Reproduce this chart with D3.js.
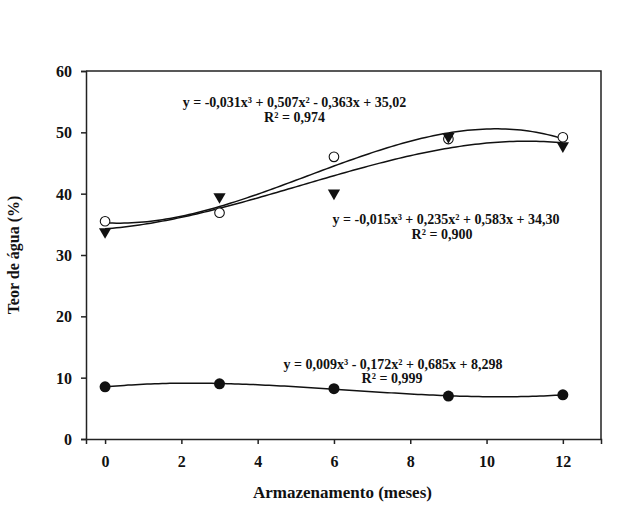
<!DOCTYPE html>
<html><head><meta charset="utf-8">
<script src="https://cdn.jsdelivr.net/npm/d3@7"></script>
<style>
body{margin:0;background:#fff;}
text{font-family:"Liberation Serif","Times New Roman",serif;font-weight:bold;fill:#111;}
</style></head>
<body><svg id="c" width="633" height="523"></svg>
<script>
// ---- data ----
const months = [0, 3, 6, 9, 12];
const openCircles = [35.5, 36.9, 46.0, 48.9, 49.2];
const triangles = [33.8, 39.5, 40.1, 49.3, 47.8];
const filledCircles = [8.5, 9.0, 8.2, 7.0, 7.2];
const xTicks = [0, 2, 4, 6, 8, 10, 12];
const yTicks = [0, 10, 20, 30, 40, 50, 60];
const eqOpen = ["y = -0,031x³ + 0,507x² - 0,363x + 35,02", "R² = 0,974"];
const eqTri = ["y = -0,015x³ + 0,235x² + 0,583x + 34,30", "R² = 0,900"];
const eqFilled = ["y = 0,009x³ - 0,172x² + 0,685x + 8,298", "R² = 0,999"];
const xTitle = "Armazenamento (meses)";
const yTitle = "Teor de água (%)";

// ---- layout ----
const L = 86, R = 601, T = 71, B = 439;
const svg = d3.select("#c");
const x = d3.scaleLinear().domain([-0.5, 13]).range([L, R]);
const y = d3.scaleLinear().domain([0, 60]).range([B, T]);

// cubic least squares fit
function cubicFit(xs, ys) {
  const n = 4, A = [], b = [];
  for (let i = 0; i < n; i++) {
    A.push([]); b.push(0);
    for (let j = 0; j < n; j++) A[i].push(d3.sum(xs, xv => Math.pow(xv, i + j)));
    b[i] = d3.sum(xs.map((xv, k) => ys[k] * Math.pow(xv, i)));
  }
  for (let i = 0; i < n; i++) {
    let p = i;
    for (let r = i + 1; r < n; r++) if (Math.abs(A[r][i]) > Math.abs(A[p][i])) p = r;
    [A[i], A[p]] = [A[p], A[i]]; [b[i], b[p]] = [b[p], b[i]];
    for (let r = i + 1; r < n; r++) {
      const f = A[r][i] / A[i][i];
      for (let c = i; c < n; c++) A[r][c] -= f * A[i][c];
      b[r] -= f * b[i];
    }
  }
  const c = new Array(n).fill(0);
  for (let i = n - 1; i >= 0; i--) {
    let s = b[i];
    for (let j = i + 1; j < n; j++) s -= A[i][j] * c[j];
    c[i] = s / A[i][i];
  }
  return xv => c[0] + c[1] * xv + c[2] * xv * xv + c[3] * xv * xv * xv;
}
const line = d3.line().x(d => x(d[0])).y(d => y(d[1]));
const xs = d3.range(0, 12.001, 0.1);
[openCircles, triangles, filledCircles].forEach(vals => {
  const f = cubicFit(months, vals);
  svg.append("path").attr("d", line(xs.map(v => [v, f(v)])))
    .attr("fill", "none").attr("stroke", "#111").attr("stroke-width", 1.5);
});

// frame & axes
svg.append("path").attr("d", `M${L},${T}H${R}V${B}`).attr("fill", "none").attr("stroke", "#222").attr("stroke-width", 1.5);
const ax = svg.append("g").attr("transform", `translate(0,${B})`)
  .call(d3.axisBottom(x).tickValues(xTicks).tickSize(5).tickSizeOuter(5).tickFormat(d3.format("d")));
const ay = svg.append("g").attr("transform", `translate(${L},0)`)
  .call(d3.axisLeft(y).tickValues(yTicks).tickSize(5).tickSizeOuter(5).tickFormat(d3.format("d")));
[ax, ay].forEach(g => {
  g.selectAll("path,line").attr("stroke", "#222").attr("stroke-width", 1.5);
  g.selectAll("text").style("font-size", "16px").style("font-family", "Liberation Serif").style("font-weight", "bold").attr("fill", "#111");
});
ax.selectAll("text").attr("dy", null).attr("y", 28);
ay.selectAll("text").attr("x", -14).attr("dy", "0.35em");

// markers
svg.append("g").selectAll("circle").data(months).join("circle")
  .attr("cx", (d) => x(d)).attr("cy", (d, i) => y(openCircles[i])).attr("r", 4.8)
  .attr("fill", "#fff").attr("stroke", "#111").attr("stroke-width", 1.1);
const tri = d3.symbol().type(d3.symbolTriangle).size(65);
svg.append("g").selectAll("path").data(months).join("path")
  .attr("d", tri)
  .attr("transform", (d, i) => `translate(${x(d)},${y(triangles[i])}) rotate(180)`)
  .attr("fill", "#111");
svg.append("g").selectAll("circle").data(months).join("circle")
  .attr("cx", (d) => x(d)).attr("cy", (d, i) => y(filledCircles[i])).attr("r", 5.5)
  .attr("fill", "#111");

// equations
function eq(lines, cx, y1, cx2, y2) {
  svg.append("text").attr("x", cx).attr("y", y1).attr("text-anchor", "middle").style("font-size", "14px").text(lines[0]);
  svg.append("text").attr("x", cx2).attr("y", y2).attr("text-anchor", "middle").style("font-size", "14px").text(lines[1]);
}
eq(eqOpen, 294.5, 107, 294.5, 121.5);
eq(eqTri, 446, 224, 442, 239);
eq(eqFilled, 393, 368.5, 392, 383);

// titles
svg.append("text").attr("x", 342.5).attr("y", 498).attr("text-anchor", "middle").style("font-size", "17px").text(xTitle);
svg.append("text").attr("transform", "translate(19,255) rotate(-90)").attr("text-anchor", "middle").style("font-size", "16px").text(yTitle);
</script></body></html>
